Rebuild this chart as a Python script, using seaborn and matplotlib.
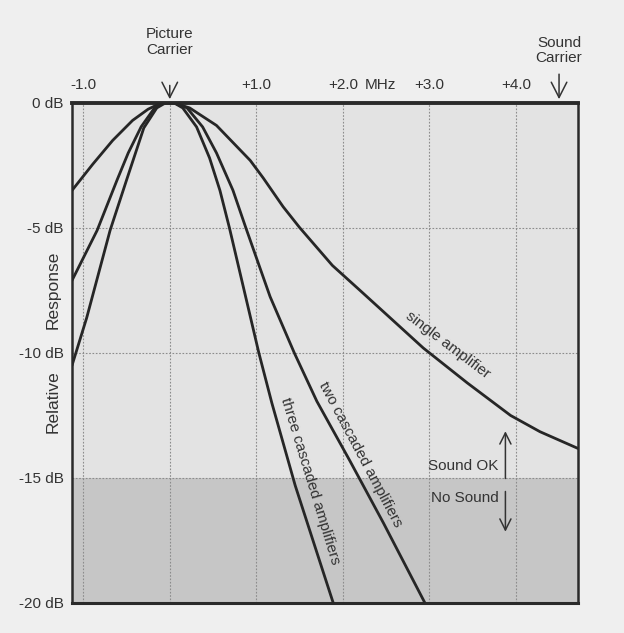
import matplotlib
matplotlib.use("Agg")
import matplotlib.pyplot as plt
import seaborn as sns
import pandas as pd

sns.set_style("white")
plt.rcParams['font.family'] = ['Liberation Sans', 'DejaVu Sans']

# curves: offset from picture carrier (MHz) vs response (dB)
single_mhz = [-1.13, -0.89, -0.66, -0.43, -0.25, -0.1, 0.05, 0.23, 0.54, 0.93, 1.08, 1.31, 1.50,
              1.88, 2.2, 2.47, 2.93, 3.44, 3.94, 4.28, 4.72]
single_db = [-3.5, -2.45, -1.5, -0.70, -0.25, 0.0, 0.0, -0.2, -0.9, -2.3, -3.0, -4.15, -4.98,
             -6.5, -7.5, -8.35, -9.8, -11.2, -12.5, -13.15, -13.82]

two_mhz = [-1.13, -0.84, -0.61, -0.48, -0.33, -0.18, -0.08, 0.05, 0.20, 0.38, 0.54, 0.73, 0.88,
           1.16, 1.44, 1.70, 2.08, 2.47, 2.95]
two_db = [-7.1, -5.1, -3.09, -2.0, -0.95, -0.22, 0.0, 0.0, -0.2, -0.96, -2.0, -3.49, -5.0,
          -7.75, -10.0, -11.93, -14.3, -16.8, -20.0]

three_mhz = [-1.13, -0.96, -0.69, -0.50, -0.30, -0.15, -0.05, 0.05, 0.15, 0.31, 0.46, 0.58, 0.69,
             0.86, 1.03, 1.18, 1.45, 1.74, 1.89]
three_db = [-10.5, -8.59, -5.1, -3.09, -1.0, -0.2, 0.0, 0.0, -0.2, -0.96, -2.2, -3.5, -5.0,
            -7.5, -10.0, -12.0, -15.3, -18.4, -20.0]

x_ticks = [-1, 1, 2, 3, 4]
x_labels = ['-1.0', '+1.0', '+2.0', '+3.0', '+4.0']
grid_x = [-1, 0, 1, 2, 3, 4]
y_ticks = [0, -5, -10, -15, -20]
y_labels = ['0 dB', '-5 dB', '-10 dB', '-15 dB', '-20 dB']

df = pd.concat([
    pd.DataFrame({'mhz': single_mhz, 'db': single_db, 'curve': 'single'}),
    pd.DataFrame({'mhz': two_mhz, 'db': two_db, 'curve': 'two'}),
    pd.DataFrame({'mhz': three_mhz, 'db': three_db, 'curve': 'three'}),
])

fig = plt.figure(figsize=(6.24, 6.33), dpi=100, facecolor='#efefef')
ax = fig.add_axes([0.1154, 0.0474, 0.811, 0.790])
ax.set_facecolor('#e3e3e3')
ax.set_xlim(-1.13, 4.72)
ax.set_ylim(-20, 0)

# no-sound zone
ax.axhspan(-20, -15, color='#c6c6c6', zorder=0, lw=0)
for gx in grid_x:
    ax.axvline(gx, color='#8c8c8c', lw=0.8, ls=(0, (1.5, 1.5)), zorder=1)
for gy in [-5, -10, -15]:
    ax.axhline(gy, color='#8c8c8c', lw=0.8, ls=(0, (1.5, 1.5)), zorder=1)

sns.lineplot(data=df, x='mhz', y='db', units='curve', estimator=None, sort=False,
             color='#262626', lw=2.0, ax=ax, zorder=3)

ax.set_xlabel('')
ax.set_ylabel('')
ax.xaxis.tick_top()
ax.set_xticks(x_ticks, x_labels)
ax.set_yticks(y_ticks, y_labels)
ax.tick_params(axis='x', length=0, pad=8, labelsize=11, colors='#333333')
ax.tick_params(axis='y', length=0, pad=6, labelsize=11, colors='#333333')
ax.text(2.43, 0.45, 'MHz', ha='center', va='bottom', fontsize=11, color='#333333')

for side, w in [('top', 2.8), ('bottom', 2.2), ('left', 1.8), ('right', 1.8)]:
    ax.spines[side].set_visible(True)
    ax.spines[side].set_color('#2a2a2a')
    ax.spines[side].set_linewidth(w)

# y title split around the -10 dB label, as in the scan
fig.text(53 / 624, 1 - 290 / 633, 'Response', rotation=90, ha='center', va='center',
         fontsize=12.5, color='#333333')
fig.text(53 / 624, 1 - 402 / 633, 'Relative', rotation=90, ha='center', va='center',
         fontsize=12.5, color='#333333')

# carrier markers
head = dict(arrowstyle='->,head_length=0.55,head_width=0.28', color='#333333', lw=1.1,
            mutation_scale=20, shrinkA=0, shrinkB=0)
ax.text(0, 1.85, 'Picture\nCarrier', ha='center', va='bottom', fontsize=11, color='#333333',
        linespacing=1.15, clip_on=False)
ax.annotate('', xy=(0, 0.15), xytext=(0, 0.7), annotation_clip=False, arrowprops=head)
ax.text(4.5, 1.5, 'Sound\nCarrier', ha='center', va='bottom', fontsize=11, color='#333333',
        linespacing=1.15, clip_on=False)
ax.annotate('', xy=(4.5, 0.15), xytext=(4.5, 1.15), annotation_clip=False, arrowprops=head)

# curve labels
ax.text(3.21, -9.68, 'single amplifier', rotation=-37, ha='center', va='center', fontsize=11,
        color='#333333', rotation_mode='anchor')
ax.text(2.20, -14.06, 'two cascaded amplifiers', rotation=-62, ha='center', va='center',
        fontsize=11, color='#333333', rotation_mode='anchor')
ax.text(1.62, -15.14, 'three cascaded amplifiers', rotation=-73, ha='center', va='center',
        fontsize=11, color='#333333', rotation_mode='anchor')

# sound threshold
small = dict(arrowstyle='->,head_length=0.5,head_width=0.25', color='#333333', lw=1.1,
             mutation_scale=16, shrinkA=0, shrinkB=0)
ax.text(3.80, -14.54, 'Sound OK', ha='right', va='center', fontsize=11, color='#333333')
ax.text(3.80, -15.82, 'No Sound', ha='right', va='center', fontsize=11, color='#333333')
ax.annotate('', xy=(3.88, -13.13), xytext=(3.88, -15.02), arrowprops=small)
ax.annotate('', xy=(3.88, -17.15), xytext=(3.88, -15.54), arrowprops=small)

fig.savefig('out.png', dpi=100, facecolor=fig.get_facecolor())
